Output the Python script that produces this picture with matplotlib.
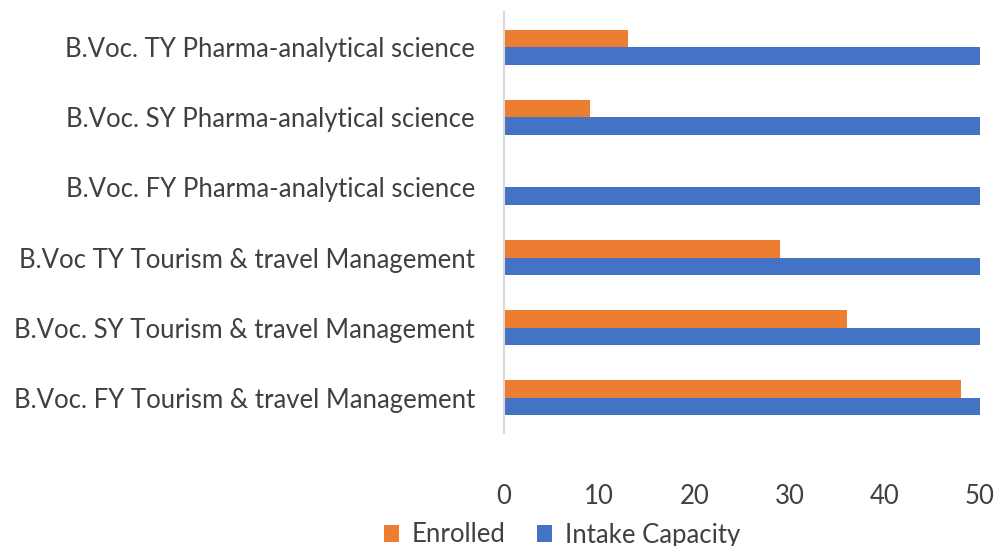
import matplotlib
matplotlib.use("Agg")
import matplotlib.pyplot as plt
import numpy as np

categories = [
    "B.Voc. FY Tourism & travel Management",
    "B.Voc. SY Tourism & travel Management",
    "B.Voc TY Tourism & travel Management",
    "B.Voc. FY Pharma-analytical science",
    "B.Voc. SY Pharma-analytical science",
    "B.Voc. TY Pharma-analytical science",
]
enrolled = [48, 36, 29, 0, 9, 13]
intake_capacity = [50, 50, 50, 50, 50, 50]
x_ticks = [0, 10, 20, 30, 40, 50]

plt.rcParams['font.family'] = ['Lato', 'DejaVu Sans']
text_color = '#404040'
fs = 18.5

fig = plt.figure(figsize=(9.99, 5.46), dpi=100)
ax = fig.add_axes([0.5045, 0.207, 0.981 - 0.5045, 0.978 - 0.207])

y = np.arange(len(categories))
h = 0.25
ax.barh(y + h / 2, enrolled, height=h, color='#ED7D31', label='Enrolled')
ax.barh(y - h / 2, intake_capacity, height=h, color='#4472C4', label='Intake Capacity')

ax.set_xlim(0, 50)
ax.set_ylim(-0.5, len(categories) - 0.5)
ax.set_xticks(x_ticks)
ax.set_yticks(y)
ax.set_yticklabels(categories)
ax.tick_params(axis='both', length=0, labelsize=fs, colors=text_color)
ax.tick_params(axis='y', pad=21)
ax.tick_params(axis='x', pad=37)
for s in ['top', 'right', 'bottom']:
    ax.spines[s].set_visible(False)
ax.spines['left'].set_color('#D9D9D9')
ax.spines['left'].set_linewidth(1.5)

fig.legend(loc='center', bbox_to_anchor=(562 / 999, 1 - 535 / 546), ncol=2,
           frameon=False, fontsize=fs, handlelength=0.6, handleheight=0.6,
           columnspacing=1.2, handletextpad=0.5, labelcolor=text_color)

fig.savefig('out.png', dpi=100)
